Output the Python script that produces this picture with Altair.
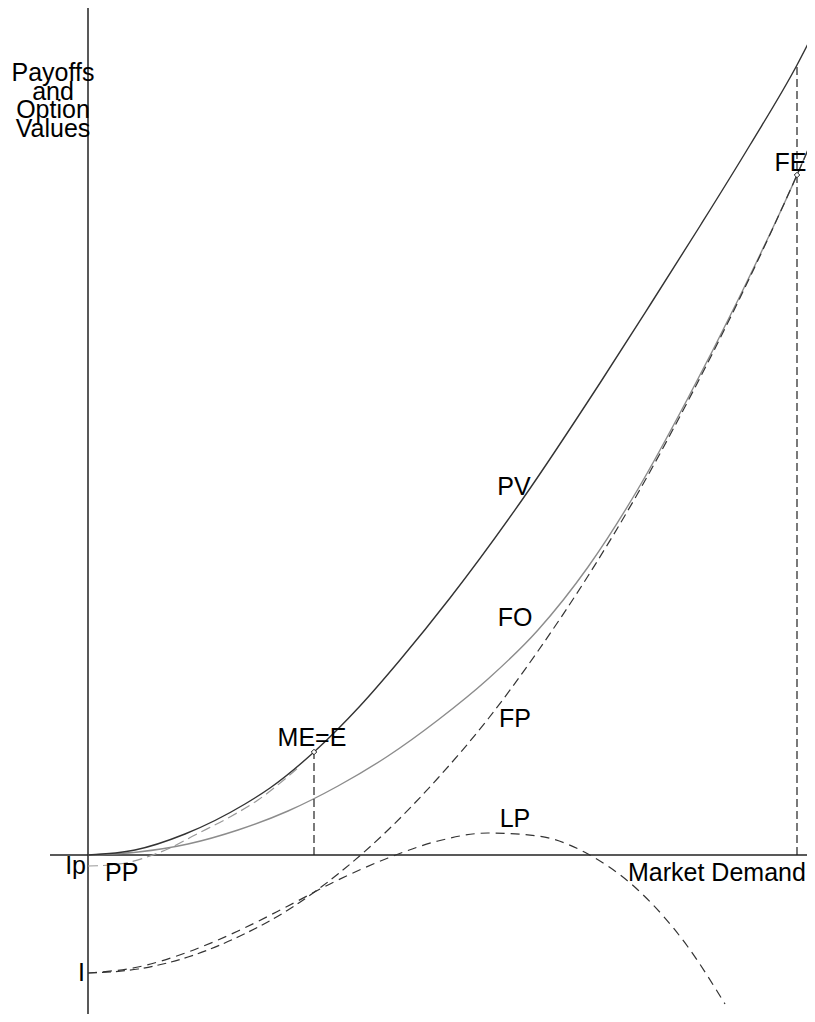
import altair as alt
import pandas as pd

# Curves (x = market demand, y = payoff / option value)
pv_x = [0.00, 0.47, 0.97, 1.57, 1.82, 2.26, 2.72, 3.12, 3.62, 4.34, 5.12, 5.62, 6.12, 6.62, 7.09, 7.27]
pv_y = [0.00, 0.05, 0.21, 0.51, 0.67, 1.03, 1.49, 1.95, 2.57, 3.55, 4.72, 5.50, 6.29, 7.10, 7.90, 8.25]

fo_x = [0.0, 0.5, 1.0, 1.5, 2.0, 2.5, 3.0, 3.5, 4.0, 4.5, 5.0, 5.5, 6.0, 6.5, 7.09, 7.27]
fo_y = [0.00, 0.03, 0.11, 0.25, 0.44, 0.69, 0.99, 1.35, 1.76, 2.25, 2.88, 3.66, 4.57, 5.55, 6.80, 7.22]

fp_x = [0.0, 0.5, 1.0, 1.5, 2.0, 2.5, 3.0, 3.5, 4.0, 4.5, 5.0, 5.5, 6.0, 6.5, 7.09, 7.27]
fp_y = [-1.18, -1.14, -1.02, -0.82, -0.55, -0.19, 0.25, 0.77, 1.36, 2.04, 2.79, 3.62, 4.54, 5.53, 6.80, 7.21]

lp_x = [0.0, 0.5, 1.0, 1.5, 2.0, 2.5, 3.0, 3.5, 4.0, 4.5, 5.0, 5.5, 6.0, 6.37]
lp_y = [-1.18, -1.12, -0.97, -0.76, -0.51, -0.25, -0.03, 0.14, 0.22, 0.19, 0.01, -0.35, -0.92, -1.49]

pp_x = [0.00, 0.22, 0.42, 0.62, 0.82, 1.07, 1.40, 1.70, 1.97, 2.12]
pp_y = [-0.11, -0.10, -0.07, -0.01, 0.07, 0.20, 0.37, 0.55, 0.76, 0.89]

# Equilibrium points
pt_x = [2.26, 7.09]
pt_y = [1.03, 6.80]
pt_top = [1.03, 7.90]

# Labels
lab_text = ["PV", "FO", "FP", "LP", "ME=E", "Payoffs", "and", "Option", "Values"]
lab_x = [4.26, 4.27, 4.27, 4.27, 2.24, -0.35, -0.35, -0.35, -0.35]
lab_y = [3.60, 2.29, 1.28, 0.28, 1.09, 7.74, 7.555, 7.37, 7.185]

left_text = ["Market Demand", "PP"]
left_x = [5.40, 0.17]
left_y = [-0.26, -0.26]

right_text = ["Ip", "I", "FE"]
right_x = [-0.02, -0.03, 7.185]
right_y = [-0.19, -1.26, 6.84]

XS = alt.Scale(domain=[-0.80, 7.19], nice=False, zero=False)
YS = alt.Scale(domain=[-1.59, 8.47], nice=False, zero=False)


def enc(ch, **extra):
    return ch.encode(
        x=alt.X("x:Q", scale=XS, axis=None),
        y=alt.Y("y:Q", scale=YS, axis=None),
        **extra,
    )


def curve(xs, ys, color, width, dash=None):
    kw = dict(color=color, strokeWidth=width, interpolate="monotone")
    if dash:
        kw["strokeDash"] = dash
    return enc(alt.Chart(pd.DataFrame({"x": xs, "y": ys})).mark_line(**kw))


axes_h = alt.Chart(pd.DataFrame({"x": [-0.38], "x2": [7.27], "y": [0.0]})).mark_rule(
    color="#222", strokeWidth=1.5
).encode(x=alt.X("x:Q", scale=XS, axis=None), x2="x2:Q", y=alt.Y("y:Q", scale=YS, axis=None))

axes_v = alt.Chart(pd.DataFrame({"x": [0.0], "y": [8.50], "y2": [-1.65]})).mark_rule(
    color="#222", strokeWidth=1.5
).encode(x=alt.X("x:Q", scale=XS, axis=None), y=alt.Y("y:Q", scale=YS, axis=None), y2="y2:Q")

vdash = alt.Chart(pd.DataFrame({"x": pt_x, "y": [0.0, 0.0], "y2": pt_top})).mark_rule(
    color="#222", strokeWidth=1.2, strokeDash=[8, 4]
).encode(x=alt.X("x:Q", scale=XS, axis=None), y=alt.Y("y:Q", scale=YS, axis=None), y2="y2:Q")

pv = curve(pv_x, pv_y, "#333333", 1.4)
fo = curve(fo_x, fo_y, "#8c8c8c", 1.4)
fp = curve(fp_x, fp_y, "#333333", 1.2, [9, 5])
lp = curve(lp_x, lp_y, "#333333", 1.2, [9, 6])
pp = curve(pp_x, pp_y, "#999999", 1.2, [10, 5])

pts = enc(
    alt.Chart(pd.DataFrame({"x": pt_x, "y": pt_y})).mark_point(
        shape="diamond", size=30, filled=True, fill="white", stroke="#222", strokeWidth=1, opacity=1
    )
)

font = "Liberation Sans"
labels = enc(
    alt.Chart(pd.DataFrame({"x": lab_x, "y": lab_y, "t": lab_text})).mark_text(
        font=font, fontSize=25, align="center", baseline="alphabetic", color="black"
    ),
    text="t:N",
)
labels_l = enc(
    alt.Chart(pd.DataFrame({"x": left_x, "y": left_y, "t": left_text})).mark_text(
        font=font, fontSize=25, align="left", baseline="alphabetic", color="black"
    ),
    text="t:N",
)
labels_r = enc(
    alt.Chart(pd.DataFrame({"x": right_x, "y": right_y, "t": right_text})).mark_text(
        font=font, fontSize=25, align="right", baseline="alphabetic", color="black"
    ),
    text="t:N",
)

chart = (
    alt.layer(axes_h, axes_v, pp, fo, fp, lp, pv, vdash, pts, labels, labels_l, labels_r)
    .properties(width=799, height=1006, padding=0, autosize=alt.AutoSizeParams(type="none"))
    .configure_view(stroke=None)
)

chart.save("out.html", embed_options={"renderer": "svg", "actions": False})
